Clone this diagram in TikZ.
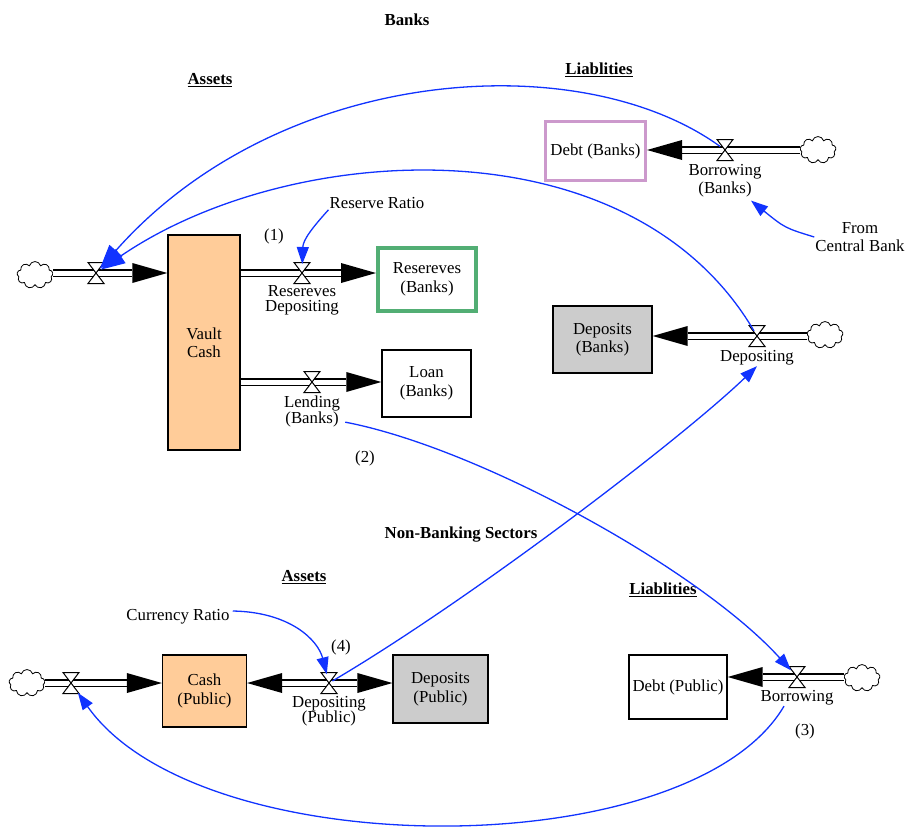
\documentclass[tikz,border=0pt]{standalone}
\usepackage{fontspec}
\setmainfont{Liberation Serif}
\usepackage{tikz}
\usetikzlibrary{shapes.symbols,arrows.meta,positioning,calc}
\definecolor{stockorange}{RGB}{255,204,153}
\definecolor{stockgray}{RGB}{204,204,204}
\definecolor{resgreen}{RGB}{82,174,116}
\definecolor{debtpink}{RGB}{204,153,204}
\definecolor{linkblue}{RGB}{17,51,255}
\newcommand{\flowtip}[2]{\fill (#1) -- ++(#2,-10) -- ++(0,20) -- cycle;}

\begin{document}
\begin{tikzpicture}[
        x=1pt, y=-1pt,
        every node/.style={font=\fontsize{16.8}{18.5}\selectfont, align=center, inner sep=1pt},
        title/.style={font=\fontsize{16.8}{18.5}\selectfont\bfseries},
        tightlbl/.style={font=\fontsize{16.8}{15.5}\selectfont},
        stock/.style={rectangle, draw, line width=1.3pt, inner sep=0pt},
        source/.style={cloud, cloud puffs=9, draw, line width=0.8pt, minimum width=36pt, minimum height=27pt, inner sep=0pt},
        pipe/.style={draw, double, double distance=5pt, line width=1.3pt},
        link/.style={linkblue, line width=1.3pt, -{Triangle[length=17pt,width=12pt]}},
        biglink/.style={link, -{Triangle[length=24pt,width=17pt]}},
        pics/valve/.style={code={\draw[line width=1pt, fill=white] (-8,-10.5) -- (8,-10.5) -- (-8,10.5) -- (8,10.5) -- cycle;}}
    ]
        \useasboundingbox (0,0) rectangle (907,827);

        % titles
        \node[title] (banks) at (407,20) {Banks};
        \node[title] (bankAssets) at (210,80) {\underline{Assets}};
        \node[title] (bankLiab) at (599,70) {\underline{Liablities}};
        \node[title] (nonBanks) at (461,535) {Non-Banking Sectors};
        \node[title] (pubAssets) at (304,577) {\underline{Assets}};
        \node[title] (pubLiab) at (663,590) {\underline{Liablities}};

        % stocks
        \node[stock, fill=stockorange, minimum width=72pt, minimum height=215pt] (vault) at (204,342.5) {Vault\\Cash};
        \node[stock, draw=resgreen, line width=4pt, minimum width=98pt, minimum height=63pt] (reserves) at (427,279.5) {Resereves\\(Banks)};
        \node[stock, minimum width=89pt, minimum height=67pt] (loan) at (426.5,383.5) {Loan\\(Banks)};
        \node[stock, draw=debtpink, line width=3pt, minimum width=100pt, minimum height=59pt] (debtB) at (595.5,151) {Debt (Banks)};
        \node[stock, fill=stockgray, minimum width=99pt, minimum height=67pt] (depositB) at (602.5,339.5) {Deposits\\(Banks)};
        \node[stock, fill=stockorange, minimum width=84pt, minimum height=72pt] (cash) at (204.5,691) {Cash\\(Public)};
        \node[stock, fill=stockgray, minimum width=95pt, minimum height=68pt] (depositP) at (440.5,689) {Deposits\\(Public)};
        \node[stock, minimum width=98pt, minimum height=64pt] (debtP) at (678,687) {Debt (Public)};

        % clouds
        \node[source] (srcVault) at (35,275) {};
        \node[source] (srcDebtB) at (818,150) {};
        \node[source] (srcDepB) at (825,335) {};
        \node[source] (srcCash) at (27,683) {};
        \node[source] (srcDebtP) at (862,678) {};

        % valves
        \coordinate (vIn) at (96,273);
        \coordinate (vRes) at (302,273);
        \coordinate (vLend) at (312,382);
        \coordinate (vBorB) at (725,150);
        \coordinate (vDepB) at (757,336);
        \coordinate (vInP) at (71,683);
        \coordinate (vDepP) at (329,683);
        \coordinate (vBorP) at (797,677);

        % pipes
        \draw[pipe, shorten >=35pt] (srcVault.east |- vIn) -- (vault.west |- vIn);
        \draw[pipe, shorten >=35pt] (vault.east |- vRes) -- (reserves.west |- vRes);
        \draw[pipe, shorten >=35pt] (vault.east |- vLend) -- (loan.west |- vLend);
        \draw[pipe, shorten >=35pt] (srcDebtB.west |- vBorB) -- (debtB.east |- vBorB);
        \draw[pipe, shorten >=35pt] (srcDepB.west |- vDepB) -- (depositB.east |- vDepB);
        \draw[pipe, shorten >=35pt] (srcCash.east |- vInP) -- (cash.west |- vInP);
        \draw[pipe, shorten <=35pt, shorten >=35pt] (cash.east |- vDepP) -- (depositP.west |- vDepP);
        \draw[pipe, shorten >=35pt] (srcDebtP.west |- vBorP) -- (debtP.east |- vBorP);

        \flowtip{vault.west |- vIn}{-35}
        \flowtip{reserves.west |- vRes}{-35}
        \flowtip{loan.west |- vLend}{-35}
        \flowtip{debtB.east |- vBorB}{35}
        \flowtip{depositB.east |- vDepB}{35}
        \flowtip{cash.west |- vInP}{-35}
        \flowtip{cash.east |- vDepP}{35}
        \flowtip{depositP.west |- vDepP}{-35}
        \flowtip{debtP.east |- vBorP}{35}

        \foreach \v in {vIn,vRes,vLend,vBorB,vDepB,vInP,vDepP,vBorP}
            \pic at (\v) {valve};

        % flow labels
        \node[tightlbl, below=11pt of vRes] (resFlowLbl) {Resereves\\Depositing};
        \node[tightlbl, below=13pt of vLend] (lendLbl) {Lending\\(Banks)};
        \node[below=13pt of vBorB] (borBLbl) {Borrowing\\(Banks)};
        \node[below=13pt of vDepB] (depBLbl) {Depositing};
        \node[tightlbl, below=12pt of vDepP] (depPLbl) {Depositing\\(Public)};
        \node[below=12pt of vBorP] (borPLbl) {Borrowing};

        % other texts
        \node (resRatio) at (377,203) {Reserve Ratio};
        \node (curRatio) at (178,617) {Currency Ratio};
        \node (central) at (860,237) {From\\Central Bank};
        \node (step1) at (274,236) {(1)};
        \node (step2) at (365,458) {(2)};
        \node (step3) at (805,731) {(3)};
        \node (step4) at (341,647) {(4)};

        % links
        \draw[biglink, shorten <=6pt, shorten >=6pt] (vBorB) .. controls (580,45) and (280,65) .. (vIn);
        \draw[biglink, shorten <=6pt, shorten >=6pt] (vDepB) .. controls (630,120) and (290,140) .. (vIn);
        \draw[link, shorten >=9pt] (resRatio.south west) .. controls (312,228) and (303,240) .. (vRes);
        \draw[link, shorten >=9pt] ($(curRatio.east)+(2,-6)$) .. controls (290,612) and (318,640) .. (vDepP);
        \draw[link] (central.west) .. controls (785,228) .. ($(borBLbl.south)+(26,2)$);
        \draw[link, shorten >=9pt] ($(lendLbl.south east)+(4,-6)$) .. controls (480,448) and (700,570) .. (vBorP);
        \draw[link, shorten <=4pt] (vDepP) .. controls (470,600) and (680,440) .. (depBLbl.south);
        \draw[link, shorten >=12pt] ($(borPLbl.south)+(-13,0)$) .. controls (690,866) and (200,866) .. (vInP);
    \end{tikzpicture}
\end{document}
